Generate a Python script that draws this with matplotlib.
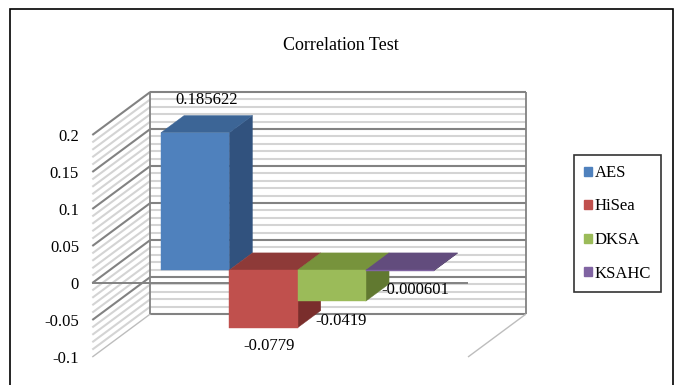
import matplotlib
matplotlib.use("Agg")
import matplotlib.pyplot as plt
from matplotlib.patches import Polygon, Patch, Rectangle
import numpy as np

plt.rcParams['font.family'] = ['Liberation Serif', 'DejaVu Serif']

# ---- data ----
title = "Correlation Test"
series = ["AES", "HiSea", "DKSA", "KSAHC"]
values = [0.185622, -0.0779, -0.0419, -0.000601]
value_labels = ["0.185622", "-0.0779", "-0.0419", "-0.000601"]
yticks = [-0.1, -0.05, 0, 0.05, 0.1, 0.15, 0.2]
ytick_labels = ["-0.1", "-0.05", "0", "0.05", "0.1", "0.15", "0.2"]

# ---- styling ----
front_colors = ["#4F81BD", "#C0504D", "#9BBB59", "#8064A2"]
top_colors = ["#3C6596", "#8E3A38", "#77933C", "#624C7D"]
side_colors = ["#31527E", "#7A2E2C", "#617930", "#4F3D66"]
major_c, minor_c, edge_light = "#828282", "#D4D4D4", "#BDBDBD"
label_offsets = [(0, 24), (-6, -27), (-2, -28), (4, -28)]  # pixels from face centre

W, H = 680, 385
fig = plt.figure(figsize=(W / 100, H / 100), dpi=100)

# front plane of the 3-D box in pixels
fx0, fx1 = 92.3, 468.0
fy_top, fy_bot = 135.0, 357.0
ax = fig.add_axes([fx0 / W, (H - fy_bot) / H, (fx1 - fx0) / W, (fy_bot - fy_top) / H])
ymin, ymax = yticks[0], yticks[-1]
ax.set_xlim(0, 1)
ax.set_ylim(ymin, ymax)
for s in ax.spines.values():
    s.set_visible(False)
ax.set_xticks([])
ax.set_yticks(yticks)
ax.set_yticklabels(ytick_labels, fontsize=12)
ax.tick_params(axis='y', length=0, pad=9.5)
ax.patch.set_visible(False)

# depth direction (back wall offset) in data units
px_x = (fx1 - fx0)
px_y = (fy_bot - fy_top) / (ymax - ymin)
DX = 58.0 / px_x
DY = 43.0 / px_y


def P(x, v, f):
    return (x + f * DX, v + f * DY)


def seg(p, q, **kw):
    ax.plot([p[0], q[0]], [p[1], q[1]], clip_on=False, solid_capstyle='butt', **kw)


# walls: minor then major gridlines on back and side wall
minor = np.round(np.arange(ymin, ymax + 1e-9, 0.01), 4)
for v in minor:
    if any(np.isclose(v, t) for t in yticks):
        continue
    seg(P(0, v, 1), P(1, v, 1), color=minor_c, lw=1.5, zorder=1)
    seg(P(0, v, 0), P(0, v, 1), color=minor_c, lw=1.5, zorder=1)
for v in yticks:
    seg(P(0, v, 1), P(1, v, 1), color=major_c, lw=1.5, zorder=1.5)
    if v == ymin:
        seg(P(0, v, 0), P(0, v, 1), color=edge_light, lw=1.0, zorder=1.5)
    else:
        seg(P(0, v, 0), P(0, v, 1), color=major_c, lw=1.5, zorder=1.5)
seg(P(0, ymin, 1), P(0, ymax, 1), color=major_c, lw=1.3, zorder=1.5)
seg(P(1, ymin, 1), P(1, ymax, 1), color=major_c, lw=1.3, zorder=1.5)
seg(P(1, ymin, 0), P(1, ymin, 1), color=edge_light, lw=1.0, zorder=1.5)

# category axis line at zero
seg(P(0, 0, 0), P(1, 0, 0), color=major_c, lw=1.4, zorder=2)

# bars (one category, clustered series, 150% gap)
n = len(values)
gap = 1.5
bw = 1.0 / (n + gap)
f0, f1 = 0.30, 0.70
for i, v in enumerate(values):
    xl = (gap / 2 + i) * bw
    xr = xl + bw
    z = 3 + i
    top_v = max(v, 0)
    side = [P(xr, 0, f0), P(xr, v, f0), P(xr, v, f1), P(xr, 0, f1)]
    top = [P(xl, top_v, f0), P(xr, top_v, f0), P(xr, top_v, f1), P(xl, top_v, f1)]
    front = [P(xl, 0, f0), P(xr, 0, f0), P(xr, v, f0), P(xl, v, f0)]
    for pts, col in ((side, side_colors[i]), (top, top_colors[i]), (front, front_colors[i])):
        ax.add_patch(Polygon(pts, closed=True, facecolor=col, edgecolor=col,
                             lw=0.3, clip_on=False, zorder=z))
    xc = (xl + xr) / 2
    anchor = P(xc, v, (f0 + f1) / 2)
    dx, dy = label_offsets[i]
    ax.annotate(value_labels[i], xy=anchor, xytext=(dx, dy), textcoords='offset pixels',
                ha='center', va='center', fontsize=12, color='black',
                annotation_clip=False, zorder=10)

# title
fig.text(341 / W, 1 - 45 / H, title, ha='center', va='center', fontsize=13)

# legend
handles = [Patch(facecolor=c, edgecolor=c) for c in front_colors]
leg = fig.legend(handles, series, loc='upper left',
                 bbox_to_anchor=(574 / W, 1 - 155 / H), bbox_transform=fig.transFigure,
                 borderaxespad=0, fontsize=12, handlelength=0.45, handleheight=0.45,
                 handletextpad=0.2, labelspacing=1.05, borderpad=0.6,
                 fancybox=False, frameon=True)
leg.get_frame().set_edgecolor('black')
leg.get_frame().set_linewidth(1.2)

# chart border
fig.patches.append(Rectangle((10 / W, -0.1), (673 - 10) / W, 1 - 9 / H + 0.1,
                             transform=fig.transFigure, fill=False,
                             edgecolor='black', lw=1.2))

fig.savefig("out.png", dpi=100)
